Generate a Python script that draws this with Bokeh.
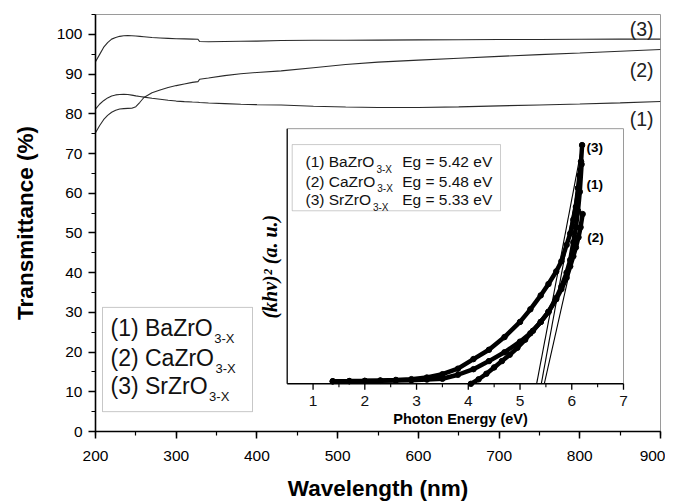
import numpy as np
from bokeh.plotting import figure
from bokeh.models import Range1d, SingleIntervalTicker, BoxAnnotation
from bokeh.core.properties import value
from bokeh.embed import file_html
from bokeh.resources import INLINE

# ---------------- data ----------------
wavelength = [200, 205, 210, 215, 220, 225, 230, 235, 240, 245, 250, 255, 260, 270, 280,
              290, 300, 310, 320, 327, 329, 340, 360, 380, 400, 430, 470, 510, 550, 600,
              650, 700, 750, 800, 850, 900]
t_ba = [81.2, 82.4, 83.3, 84.0, 84.5, 84.75, 84.85, 84.9, 84.85, 84.7, 84.5, 84.35, 84.2, 83.9,
        83.65, 83.4, 83.2, 83.05, 82.95, 82.9, 82.85, 82.7, 82.55, 82.4, 82.3, 82.2, 81.9, 81.7,
        81.6, 81.6, 81.75, 82.0, 82.2, 82.45, 82.75, 83.1]
t_ca = [75.2, 77.0, 78.5, 79.6, 80.4, 80.9, 81.2, 81.3, 81.35, 81.4, 81.8, 82.9, 84.1, 85.3,
        86.0, 86.6, 87.1, 87.5, 87.9, 88.1, 88.7, 89.0, 89.6, 90.1, 90.4, 90.8, 91.6, 92.4,
        93.0, 93.5, 94.0, 94.45, 94.9, 95.3, 95.75, 96.2]
t_sr = [93.1, 94.9, 96.7, 97.9, 98.8, 99.2, 99.5, 99.65, 99.7, 99.65, 99.6, 99.5, 99.4, 99.2,
        99.1, 99.0, 98.9, 98.85, 98.8, 98.75, 98.2, 98.15, 98.2, 98.25, 98.3, 98.45, 98.5, 98.5,
        98.55, 98.6, 98.65, 98.7, 98.7, 98.75, 98.8, 98.8]
curve_tags = ["(1)", "(2)", "(3)"]

# inset: (k h nu)^2 in arbitrary units vs photon energy (eV)
ev_sr = [1.38, 1.7, 2.0, 2.3, 2.6, 2.9, 3.2, 3.5, 3.8, 4.1, 4.4, 4.7, 5.0, 5.2, 5.4, 5.55,
         5.7, 5.8, 5.9, 5.97, 6.03, 6.08, 6.12, 6.15, 6.18, 6.2]
k_sr = [0.0, 0.1, 0.2, 0.35, 0.55, 0.85, 1.5, 2.8, 5.0, 8.8, 12.5, 17.5, 23.5, 28.5, 34.0, 38.5,
        43.5, 47.5, 54.0, 58.5, 64.0, 69.0, 76.5, 81.5, 87.0, 93.5]
ev_ba = [1.38, 1.7, 2.0, 2.3, 2.6, 2.9, 3.2, 3.5, 3.8, 4.1, 4.4, 4.7, 5.0, 5.2, 5.4, 5.55,
         5.7, 5.8, 5.9, 5.97, 6.03, 6.08, 6.12, 6.155, 6.19]
k_ba = [0.0, 0.05, 0.1, 0.2, 0.3, 0.45, 0.7, 1.0, 2.6, 4.8, 8.0, 11.5, 15.7, 19.0, 23.5, 27.5,
        33.0, 37.5, 43.0, 48.0, 55.0, 61.0, 67.5, 75.0, 85.9]
ev_ca = [4.05, 4.2, 4.35, 4.5, 4.65, 4.8, 4.95, 5.1, 5.25, 5.4, 5.55, 5.7, 5.8, 5.9, 5.97,
         6.03, 6.08, 6.13, 6.17, 6.21]
k_ca = [-1.0, 0.8, 3.0, 5.5, 8.0, 10.5, 13.3, 16.5, 20.0, 23.5, 27.5, 32.5, 36.5, 41.0, 45.5,
        49.5, 53.0, 57.0, 61.0, 66.2]
eg_values = [5.42, 5.48, 5.33]          # (1) Ba, (2) Ca, (3) Sr
materials = ["BaZrO", "CaZrO", "SrZrO"]
subscript = "3-X"
inset_ticks = [1, 2, 3, 4, 5, 6, 7]

# ---------------- layout (page pixels) ----------------
W, H = 665, 503
FL, FT, FW, FH = 95, 14, 565, 420
X0, X1, Y0, Y1 = 200, 900, 0, 105
FONT = "Liberation Sans"


def mx(px):  # page px -> main data x
    return X0 + (px - FL) * (X1 - X0) / FW


def my(py):  # page py -> main data y
    return Y1 - (py - FT) * (Y1 - Y0) / FH


ARIAL = {'(': 333, ')': 333, '1': 556, '2': 556, '3': 556, ' ': 278, 'B': 667, 'a': 556,
         'Z': 611, 'r': 333, 'O': 778, 'C': 722, 'S': 667}


def text_w(s, size):
    return sum(ARIAL.get(c, 556) for c in s) / 1000 * size


p = figure(width=W, height=H, output_backend="svg", toolbar_location=None,
           x_range=Range1d(X0, X1), y_range=Range1d(Y0, Y1),
           min_border_left=FL, min_border_top=FT,
           min_border_right=W - FL - FW, min_border_bottom=H - FT - FH)
p.outline_line_color = "#9a9a9a"
p.outline_line_width = 1
p.grid.visible = False
p.background_fill_color = "white"
p.border_fill_color = "white"

p.xaxis.ticker = SingleIntervalTicker(interval=100, num_minor_ticks=2)
p.yaxis.ticker = SingleIntervalTicker(interval=10, num_minor_ticks=2)
for ax in (p.xaxis, p.yaxis):
    ax.axis_line_width = 1.6
    ax.axis_line_color = "black"
    ax.major_tick_in = 0
    ax.major_tick_out = 7
    ax.minor_tick_in = 0
    ax.minor_tick_out = 4
    ax.major_tick_line_width = 1.5
    ax.minor_tick_line_width = 1.2
    ax.major_label_text_font = FONT
    ax.major_label_text_font_size = "15.5px"
    ax.major_label_text_color = "black"
    ax.axis_label_text_font = FONT
    ax.axis_label_text_font_style = "bold"
    ax.axis_label_text_font_size = "22.5px"
    ax.axis_label_text_color = "black"
p.xaxis.axis_label = "Wavelength (nm)"
p.yaxis.axis_label = "Transmittance (%)"
p.xaxis.major_label_standoff = 12
p.xaxis.axis_label_standoff = 12
p.yaxis.major_label_standoff = 6
p.yaxis.axis_label_standoff = 16

# main spectra
for t in (t_ba, t_ca, t_sr):
    p.line(wavelength, t, line_color="#2a2a2a", line_width=1.1)

# curve tags at the right
p.text(x=[mx(653)] * 3, y=[my(119), my(70), my(29)], text=curve_tags,
       text_font=value(FONT), text_font_size="19.5px", text_align="right",
       text_baseline="middle", text_color="#222")

# main legend
p.add_layout(BoxAnnotation(left=mx(102), right=mx(252), top=my(309), bottom=my(414),
                           fill_color=None, line_color="#444", line_width=1))
rows_y = [330, 360, 388]
leg_txt = [f"({i + 1}) {m}" for i, m in enumerate(materials)]
p.text(x=[mx(110)] * 3, y=[my(r) for r in rows_y], text=leg_txt,
       text_font=value(FONT), text_font_size="23px", text_baseline="middle", text_color="#111")
p.text(x=[mx(110 + text_w(s, 23) + 1.5) for s in leg_txt], y=[my(r + 10.5) for r in rows_y],
       text=[subscript] * 3, text_font=value(FONT), text_font_size="13px",
       text_baseline="middle", text_color="#111")

# ---------------- inset ----------------
IL, IR, IT, IB = 286.7, 623.0, 129.0, 386.0
IX0, IX1, IY0, IY1 = 0.5, 7.0, -1.0, 100.0
inset = p.subplot(x_source=Range1d(IX0, IX1), y_source=Range1d(IY0, IY1),
                  x_target=Range1d(mx(IL), mx(IR)), y_target=Range1d(my(IB), my(IT)))
unit_per_px = (IY1 - IY0) / (IB - IT)

# frame
inset.line([IX0, IX1], [IY1, IY1], line_color="#9a9a9a", line_width=1)
inset.line([IX1, IX1], [IY0, IY1], line_color="#9a9a9a", line_width=1)
inset.line([IX0, IX0], [IY0, IY1], line_color="black", line_width=1.3)
inset.line([IX0, IX1], [IY0, IY0], line_color="black", line_width=1.5)
# ticks
maj = np.array(inset_ticks, dtype=float)
mnr = maj[:-1] + 0.5
inset.segment(x0=maj, y0=[IY0] * len(maj), x1=maj, y1=[IY0 - 6 * unit_per_px] * len(maj),
              line_color="black", line_width=1.3)
inset.segment(x0=mnr, y0=[IY0] * len(mnr), x1=mnr, y1=[IY0 - 3.5 * unit_per_px] * len(mnr),
              line_color="black", line_width=1.1)
inset.text(x=maj, y=[IY0] * len(maj), text=[str(t) for t in inset_ticks],
           y_offset=17, text_align="center", text_baseline="middle",
           text_font=value(FONT), text_font_size="15.5px", text_color="#111")

# tangent lines
tops = [(ev_ba[-1], k_ba[-1]), (ev_ca[-1], k_ca[-1]), (ev_sr[-1], k_sr[-1])]
for eg, (et, kt) in zip(eg_values, tops):
    slope = kt / (et - eg)
    inset.line([eg + IY0 / slope, et], [IY0, kt], line_color="black", line_width=1.1)

# dotted curves
for ev, k in ((ev_ba, k_ba), (ev_ca, k_ca), (ev_sr, k_sr)):
    inset.line(ev, k, line_color="black", line_width=4.5)
    inset.scatter(ev, k, size=5.5, color="black")

# inset curve tags
p.text(x=[mx(586), mx(586.7), mx(586)], y=[my(185), my(238.3), my(148.3)], text=curve_tags,
       text_font=value(FONT), text_font_style="bold", text_font_size="13.5px",
       text_baseline="middle", text_color="black")

# inset axis labels
p.text(x=[mx(460)], y=[my(421)], text=["Photon Energy (eV)"], text_font=value(FONT),
       text_font_style="bold", text_font_size="14.5px", text_align="center",
       text_baseline="middle", text_color="black")
p.text(x=[mx(269)], y=[my(268)], text=["(khν)² (a. u.)"], angle=np.pi / 2,
       text_font=value("Liberation Serif"), text_font_style="bold italic",
       text_font_size="20px", text_align="center", text_baseline="middle", text_color="black")

# inset legend
p.add_layout(BoxAnnotation(left=mx(291.7), right=mx(500), top=my(145), bottom=my(211.7),
                           fill_color=None, line_color="#555", line_width=1))
irows = [161.7, 181.7, 200]
p.text(x=[mx(305)] * 3, y=[my(r) for r in irows], text=leg_txt, text_font=value(FONT),
       text_font_size="15.5px", text_baseline="middle", text_color="#111")
p.text(x=[mx(305 + text_w(s, 15.5) + 2) for s in leg_txt], y=[my(r + 8) for r in irows],
       text=[subscript] * 3, text_font=value(FONT), text_font_size="10px",
       text_baseline="middle", text_color="#111")
p.text(x=[mx(401.7)] * 3, y=[my(r) for r in irows],
       text=[f"Eg = {e:.2f} eV" for e in eg_values], text_font=value(FONT),
       text_font_size="15.5px", text_baseline="middle", text_color="#111")

open("out.html", "w").write(file_html(p, INLINE))
